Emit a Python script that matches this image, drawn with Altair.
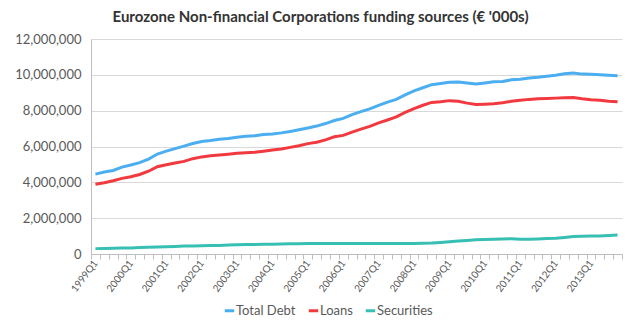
import altair as alt
import pandas as pd

years = list(range(1999, 2014))
quarters = [f"{y}Q{q}" for y in years for q in range(1, 5)]

total_debt = [
    4460000, 4580000, 4660000, 4850000, 4970000, 5100000, 5300000, 5580000,
    5740000, 5880000, 6020000, 6170000, 6280000, 6330000, 6400000, 6450000,
    6520000, 6570000, 6600000, 6670000, 6700000, 6760000, 6840000, 6930000,
    7030000, 7140000, 7280000, 7450000, 7570000, 7780000, 7950000, 8100000,
    8300000, 8480000, 8630000, 8880000, 9100000, 9280000, 9450000, 9520000,
    9580000, 9600000, 9540000, 9490000, 9550000, 9620000, 9630000, 9720000,
    9760000, 9820000, 9860000, 9920000, 9980000, 10060000, 10100000, 10040000,
    10030000, 10000000, 9970000, 9950000,
]
loans = [
    3890000, 3980000, 4090000, 4220000, 4310000, 4440000, 4620000, 4870000,
    4980000, 5080000, 5170000, 5320000, 5420000, 5480000, 5520000, 5570000,
    5620000, 5650000, 5680000, 5740000, 5800000, 5860000, 5950000, 6040000,
    6160000, 6240000, 6370000, 6540000, 6620000, 6800000, 6970000, 7120000,
    7320000, 7480000, 7650000, 7900000, 8120000, 8300000, 8460000, 8500000,
    8560000, 8520000, 8420000, 8350000, 8360000, 8380000, 8440000, 8520000,
    8580000, 8630000, 8660000, 8680000, 8700000, 8720000, 8730000, 8660000,
    8610000, 8580000, 8530000, 8500000,
]
securities = [
    300000, 310000, 320000, 330000, 340000, 360000, 370000, 390000,
    410000, 420000, 440000, 450000, 460000, 470000, 480000, 500000,
    520000, 530000, 530000, 540000, 550000, 560000, 570000, 570000,
    580000, 590000, 590000, 580000, 580000, 590000, 590000, 590000,
    580000, 580000, 580000, 590000, 590000, 600000, 610000, 640000,
    680000, 720000, 760000, 790000, 810000, 830000, 840000, 850000,
    820000, 830000, 840000, 860000, 880000, 920000, 970000, 990000,
    1000000, 1010000, 1030000, 1060000,
]

series_names = ["Total Debt", "Loans", "Securities"]
colors = ["#4aaef0", "#f2393f", "#38bfb4"]

rows = []
for name, vals in zip(series_names, [total_debt, loans, securities]):
    for q, v in zip(quarters, vals):
        rows.append({"Quarter": q, "Series": name, "Value": v})
df = pd.DataFrame(rows)

FONT = "Lato"

chart = alt.Chart(df).mark_line(strokeWidth=3).encode(
    x=alt.X(
        "Quarter:O",
        sort=quarters,
        bandPosition=0.5,
        scale=alt.Scale(type="band", paddingInner=0, paddingOuter=0),
        axis=alt.Axis(
            title=None,
            labelAngle=-53,
            labelAlign="right",
            labelBaseline="middle",
            labelOverlap=False,
            labelExpr="indexof(datum.label, 'Q1') > 0 ? datum.label : ''",
            tickBand="extent",
            tickSize=5,
            tickColor="#bfbfbf",
            domainColor="#bfbfbf",
            labelPadding=2,
            labelFontSize=10,
            labelColor="#595959",
            labelFont=FONT,
            grid=False,
        ),
    ),
    y=alt.Y(
        "Value:Q",
        scale=alt.Scale(domain=[0, 12000000]),
        axis=alt.Axis(
            title=None,
            values=[0, 2000000, 4000000, 6000000, 8000000, 10000000, 12000000],
            format=",d",
            ticks=False,
            labelPadding=10,
            labelFontSize=13,
            labelColor="#595959",
            labelFont=FONT,
            grid=True,
            gridColor="#d9d9d9",
            domainColor="#bfbfbf",
        ),
    ),
    color=alt.Color(
        "Series:N",
        sort=series_names,
        scale=alt.Scale(domain=series_names, range=colors),
        legend=alt.Legend(
            title=None,
            orient="none",
            direction="horizontal",
            legendX=132,
            legendY=265,
            symbolType="stroke",
            symbolStrokeWidth=3,
            symbolSize=90,
            labelFontSize=13,
            labelColor="#595959",
            labelFont=FONT,
            columnPadding=6,
            labelOffset=0,
        ),
    ),
).properties(
    width=531,
    height=215,
    title=alt.TitleParams(
        "Eurozone Non-financial Corporations funding sources (€ '000s)",
        font=FONT,
        fontSize=15,
        fontWeight="bold",
        color="#333333",
        dx=-36,
        offset=8,
    ),
    autosize=alt.AutoSizeParams(type="none"),
    padding={"left": 91, "top": 39, "right": 18, "bottom": 73},
).configure_view(stroke=None)

chart.save("out.html", embed_options={"renderer": "svg", "actions": False})
